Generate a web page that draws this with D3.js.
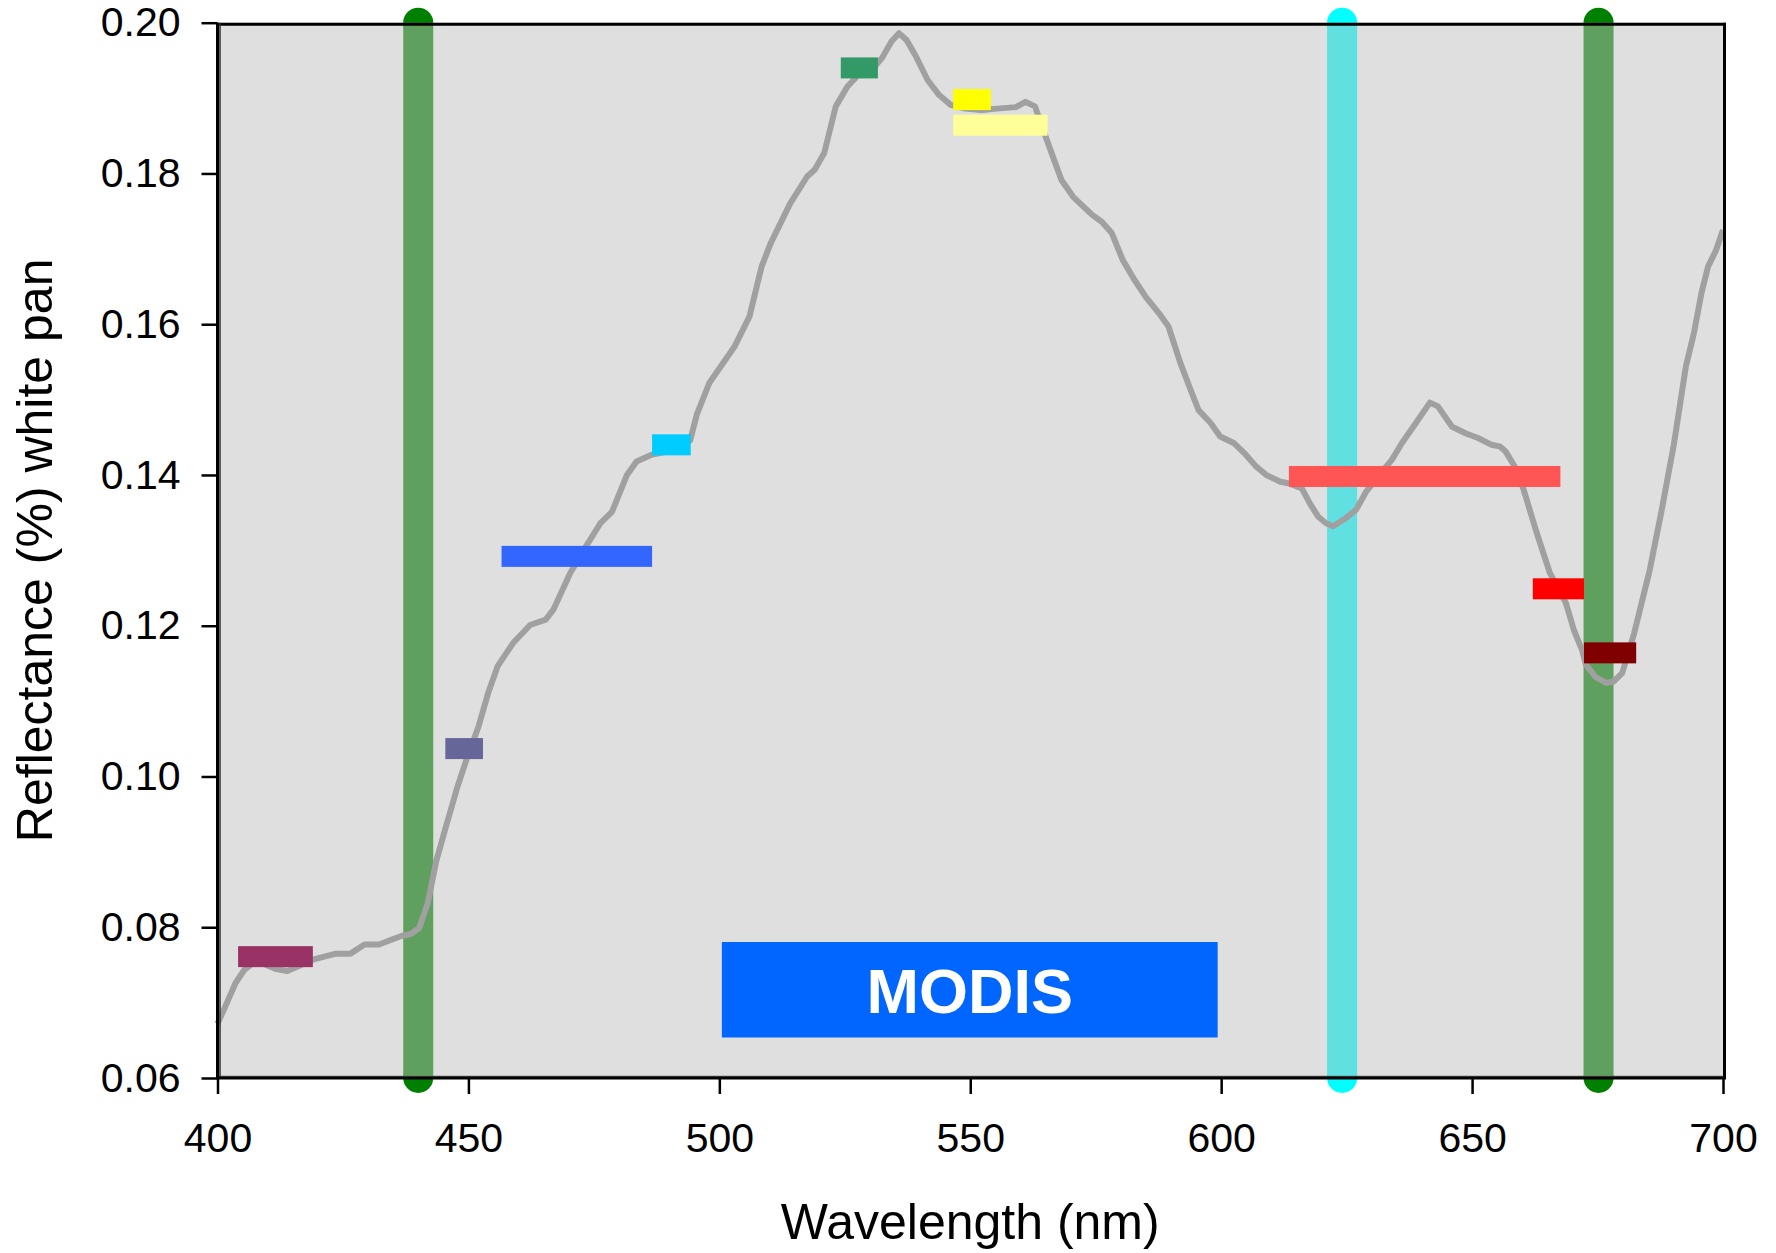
<!DOCTYPE html>
<html>
<head>
<meta charset="utf-8">
<script src="https://cdn.jsdelivr.net/npm/d3@7"></script>
<style>
  html, body { margin: 0; padding: 0; background: #fff; }
  svg { display: block; }
  text { font-family: "Liberation Sans", Arial, sans-serif; }
</style>
</head>
<body>
<svg id="chart" width="1776" height="1253"></svg>
<script>
// ---------- data ----------
const wavelength = [400,401.9,403.6,405.3,407,409,411.5,413.9,416,419,420.7,423.6,426.5,429.3,432.2,434.5,436.5,438.5,440.2,441.9,443.6,445.5,447.8,449.7,452,453.9,455.8,458.9,462.3,465.4,466.9,470.3,473.4,476.3,478.6,481.6,483.5,486.6,490.5,494.2,495.5,498,503,506,508.4,510.2,514.1,517.5,519,520.9,523.2,525.5,528,531,532.4,534.3,535.8,537.3,539.2,541.5,543.8,546.1,549,552,555.3,559.1,561,562.9,564.8,566.7,568.2,570.5,574.3,576.2,578.2,580.4,582.7,585,587.9,589.5,591.9,593.9,595.5,597.9,599.8,602.6,604.6,607,609,611.8,613.4,616.1,617.7,619.3,620.9,622.3,624.9,626.9,628.9,631.5,634,636,638.8,641.6,643.2,646,648.8,651.2,653.9,655.5,656.7,658.7,660.3,662.7,665.5,668.7,670.3,671.9,672.7,674.6,676.7,678.2,679.9,682.3,685.4,687.8,690.2,692.6,694.2,695.7,697,698.6,700];
const reflectance = [0.0672,0.0700,0.0726,0.0743,0.0752,0.0752,0.0745,0.0742,0.0748,0.0757,0.0760,0.0765,0.0765,0.0777,0.0777,0.0783,0.0788,0.0791,0.0799,0.0832,0.0888,0.0933,0.0986,0.1024,0.1066,0.1110,0.1146,0.1177,0.1201,0.1208,0.1221,0.1270,0.1305,0.1336,0.1351,0.1400,0.1418,0.1427,0.1432,0.1446,0.1480,0.1522,0.1570,0.1610,0.1676,0.1707,0.1760,0.1796,0.1805,0.1827,0.1889,0.1915,0.1933,0.1942,0.1953,0.1975,0.1986,0.1977,0.1955,0.1924,0.1904,0.1891,0.1886,0.1884,0.1886,0.1888,0.1895,0.1889,0.1853,0.1818,0.1791,0.1769,0.1745,0.1736,0.1721,0.1685,0.1659,0.1636,0.1612,0.1597,0.1548,0.1513,0.1486,0.1469,0.1451,0.1442,0.1429,0.1411,0.1400,0.1391,0.1389,0.1382,0.1362,0.1345,0.1336,0.1332,0.1343,0.1354,0.1378,0.1400,0.1420,0.1442,0.1469,0.1496,0.1491,0.1464,0.1455,0.1449,0.1440,0.1438,0.1431,0.1409,0.1380,0.1327,0.1270,0.1230,0.1194,0.1168,0.1148,0.1132,0.1124,0.1126,0.1137,0.1190,0.1274,0.1354,0.1440,0.1544,0.1588,0.1641,0.1676,0.1698,0.1725];

// MODIS bands: start, end (nm), level (reflectance)
const bandStart = [404.1, 445.4, 456.6, 486.6, 524.2, 546.6, 546.6, 613.5, 662.1, 672.3];
const bandEnd   = [419.0, 452.9, 486.6, 494.3, 531.6, 554.1, 565.4, 667.6, 672.3, 682.7];
const bandLevel = [0.0761, 0.1037, 0.1292, 0.1440, 0.1940, 0.1898, 0.1864, 0.1398, 0.1249, 0.1164];
const bandColor = ["#993366","#666699","#3366ff","#00ccff","#339966","#ffff00","#ffff99","#ff5555","#ff0000","#800000"];

// vertical marker lines (nm)
const markerWave  = [440, 624.1, 675.2];
const markerColor = ["#5fa05f", "#60e0e0", "#5fa05f"];
const markerCap   = ["#008000", "#00ffff", "#008000"];

const xTicks = [400, 450, 500, 550, 600, 650, 700];
const yTicks = [0.06, 0.08, 0.10, 0.12, 0.14, 0.16, 0.18, 0.20];

// ---------- drawing ----------
const svg = d3.select("#chart");
const x = d3.scaleLinear().domain([400, 700]).range([217.5, 1723]);
const y = d3.scaleLinear().domain([0.06, 0.20]).range([1078, 22.7]);

// plot background
svg.append("rect")
  .attr("x", x(400)).attr("y", y(0.20))
  .attr("width", x(700) - x(400)).attr("height", y(0.06) - y(0.20))
  .attr("fill", "#dfdfdf");

// marker caps (circles) then bars
const mk = svg.append("g");
markerWave.forEach((w, i) => {
  [0.20, 0.06].forEach(v => {
    mk.append("circle").attr("cx", x(w)).attr("cy", y(v)).attr("r", 15).attr("fill", markerCap[i]);
  });
  mk.append("rect")
    .attr("x", x(w) - 15).attr("y", y(0.20))
    .attr("width", 30).attr("height", y(0.06) - y(0.20))
    .attr("fill", markerColor[i]);
});

// curve
const line = d3.line().x((d, i) => x(wavelength[i])).y((d, i) => y(reflectance[i]));
svg.append("path")
  .datum(reflectance)
  .attr("d", line)
  .attr("fill", "none")
  .attr("stroke", "#a0a0a0")
  .attr("stroke-width", 6)
  .attr("stroke-linejoin", "round");

// band rectangles
const bh = 21;
svg.append("g").selectAll("rect")
  .data(bandLevel)
  .join("rect")
  .attr("x", (d, i) => x(bandStart[i]))
  .attr("width", (d, i) => x(bandEnd[i]) - x(bandStart[i]))
  .attr("y", d => y(d) - bh / 2)
  .attr("height", bh)
  .attr("fill", (d, i) => bandColor[i]);

// MODIS label box
const bx0 = x(500.5), bx1 = x(599.3), by0 = 942, by1 = 1037.5;
svg.append("rect")
  .attr("x", bx0).attr("y", by0)
  .attr("width", bx1 - bx0).attr("height", by1 - by0)
  .attr("fill", "#0066ff");
svg.append("text")
  .attr("x", (bx0 + bx1) / 2).attr("y", (by0 + by1) / 2 + 23)
  .attr("text-anchor", "middle")
  .attr("font-size", 63).attr("font-weight", "bold")
  .attr("fill", "#fff")
  .text("MODIS");

// frame
svg.append("line").attr("x1", x(400)).attr("x2", x(700) + 3).attr("y1", y(0.20) + 1.5).attr("y2", y(0.20) + 1.5)
  .attr("stroke", "#000").attr("stroke-width", 3);
svg.append("line").attr("x1", x(700) + 1.5).attr("x2", x(700) + 1.5).attr("y1", y(0.20)).attr("y2", y(0.06))
  .attr("stroke", "#000").attr("stroke-width", 3);
svg.append("line").attr("x1", x(400) + 2).attr("x2", x(700)).attr("y1", y(0.06) - 1.5).attr("y2", y(0.06) - 1.5)
  .attr("stroke", "#606060").attr("stroke-width", 1.5);
svg.append("line").attr("x1", x(400) + 2.5).attr("x2", x(400) + 2.5).attr("y1", y(0.20)).attr("y2", y(0.06))
  .attr("stroke", "#303030").attr("stroke-width", 1.5);

// axes
const xAxis = d3.axisBottom(x).tickValues(xTicks).tickSize(16).tickPadding(29).tickFormat(d3.format("d"));
const gx = svg.append("g").attr("transform", `translate(0,${y(0.06)})`).call(xAxis);
const yAxis = d3.axisLeft(y).tickValues(yTicks).tickSize(16).tickPadding(21).tickFormat(d3.format(".2f"));
const gy = svg.append("g").attr("transform", `translate(${x(400)},0)`).call(yAxis);
[gx, gy].forEach(g => {
  g.select(".domain").attr("stroke", "#000").attr("stroke-width", 3);
  g.selectAll(".tick line").attr("stroke", "#000").attr("stroke-width", 2.5);
  g.selectAll(".tick text").attr("font-size", 41).attr("fill", "#000")
    .attr("font-family", "'Liberation Sans', Arial, sans-serif");
});
gx.select(".domain").attr("d", `M${x(400)},0H${x(700) + 3}`);
gy.select(".domain").attr("d", `M0,${y(0.20)}V${y(0.06)}`);

// axis titles
svg.append("text")
  .attr("x", (x(400) + x(700)) / 2).attr("y", 1239)
  .attr("text-anchor", "middle").attr("font-size", 50).attr("fill", "#000")
  .text("Wavelength (nm)");
svg.append("text")
  .attr("transform", `translate(52,${(y(0.20) + y(0.06)) / 2}) rotate(-90)`)
  .attr("text-anchor", "middle").attr("font-size", 50).attr("fill", "#000")
  .text("Reflectance (%) white pan");
</script>
</body>
</html>
